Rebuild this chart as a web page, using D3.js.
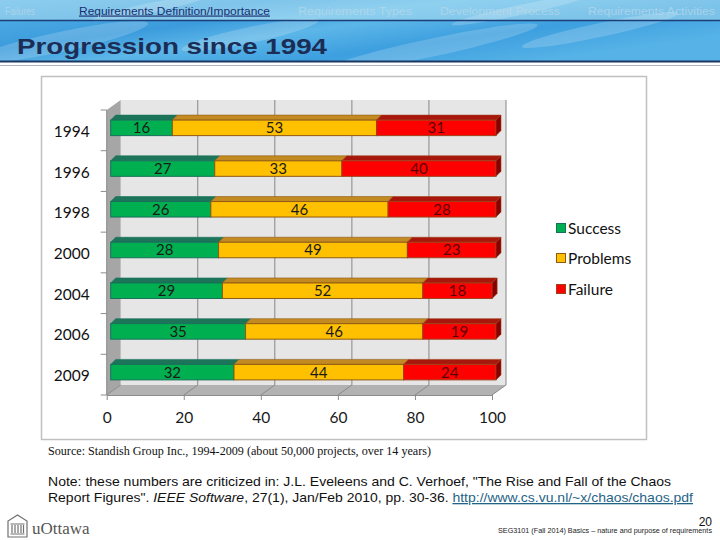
<!DOCTYPE html>
<html><head><meta charset="utf-8">
<script src="https://cdn.jsdelivr.net/npm/d3@7"></script>
<style>html,body{margin:0;padding:0;background:#fff;} svg{display:block;}</style>
</head><body>
<svg id="c" width="720" height="540"></svg>
<script>
// ---- data ----
const years = ["1994","1996","1998","2000","2004","2006","2009"];
const success = [16,27,26,28,29,35,32];
const problems = [53,33,46,49,52,46,44];
const failure = [31,40,28,23,18,19,24];
const seriesNames = ["Success","Problems","Failure"];
const xTicks = [0,20,40,60,80,100];
const navItems = ["Failures","Requirements Definition/Importance","Requirements Types","Development Process","Requirements Activities"];
const titleText = "Progression since 1994";
const sourceText = "Source: Standish Group Inc., 1994-2009  (about 50,000 projects, over 14 years)";
const noteLine1 = "Note: these numbers are criticized in: J.L. Eveleens and C. Verhoef, \"The Rise and Fall of the Chaos";
const noteLine2a = "Report Figures\". ";
const noteLine2b = "IEEE Software";
const noteLine2c = ", 27(1), Jan/Feb 2010, pp. 30-36. ";
const noteUrl = "http://www.cs.vu.nl/~x/chaos/chaos.pdf";
const pageNum = "20";
const footerText = "SEG3101 (Fall 2014)    Basics \u2013 nature and purpose of requirements";
const logoText = "uOttawa";

// ---- styles ----
const fronts = ["#00b050","#ffc000","#ff0000"];
const tops = ["#1d7559","#c48a22","#a8170c"];
const sides = ["#156049","#9c6a12","#8a0000"];
const strokes = ["#17705a","#8f5a14","#a0401a"];
const labelCols = ["#1a1a1a","#1a1a1a","#5a0000"];
const chartFont = "Lato, 'Open Sans', sans-serif";

const svg = d3.select("#c");
const defs = svg.append("defs");

// header gradients
const g1 = defs.append("linearGradient").attr("id","hdr1").attr("x1","0").attr("y1","0").attr("x2","1").attr("y2","0.3");
[["0","#8ccdee"],["0.35","#7fc4ea"],["0.6","#8fd0ef"],["1","#7cc3e9"]].forEach(s=>g1.append("stop").attr("offset",s[0]).attr("stop-color",s[1]));
const g2 = defs.append("linearGradient").attr("id","hdr2").attr("x1","0").attr("y1","0").attr("x2","1").attr("y2","0.4");
[["0","#4aa9e2"],["0.25","#3b9bdc"],["0.45","#5cb6e8"],["0.7","#3d9fdf"],["1","#57b3e7"]].forEach(s=>g2.append("stop").attr("offset",s[0]).attr("stop-color",s[1]));

// header
svg.append("rect").attr("x",0).attr("y",0).attr("width",720).attr("height",21).attr("fill","url(#hdr1)");
svg.append("rect").attr("x",0).attr("y",21).attr("width",720).attr("height",40).attr("fill","url(#hdr2)");
const streaks = svg.append("g").attr("opacity",0.18).attr("fill","#ffffff");
[[60,42,90,10],[250,35,70,8],[430,48,110,9],[600,30,80,7],[150,8,60,5],[520,10,70,5]].forEach(e=>{
  streaks.append("ellipse").attr("cx",e[0]).attr("cy",e[1]).attr("rx",e[2]).attr("ry",e[3]).attr("transform",`rotate(-12 ${e[0]} ${e[1]})`);
});
svg.append("line").attr("x1",0).attr("x2",720).attr("y1",20.5).attr("y2",20.5).attr("stroke","#1c3f78").attr("stroke-width",1.5);
svg.append("line").attr("x1",0).attr("x2",720).attr("y1",61.5).attr("y2",61.5).attr("stroke","#1b3763").attr("stroke-width",2);
svg.append("line").attr("x1",0).attr("x2",720).attr("y1",65.5).attr("y2",65.5).attr("stroke","#a9b4c2").attr("stroke-width",1);

const navX = [5,79,298,440,588];
const navW = [30,191,114,120,127];
navItems.forEach((t,i)=>{
  const active = i===1;
  svg.append("text").attr("x",navX[i]).attr("y",14.5)
    .attr("font-family","'Liberation Sans', Arial, sans-serif").attr("font-size",11.5)
    .attr("textLength",navW[i]).attr("lengthAdjust","spacingAndGlyphs")
    .attr("fill", active ? "#1b2f6e" : "#bcd9ea").attr("opacity", active?1:0.7)
    .attr("text-decoration", active ? "underline" : null)
    .text(t);
});
svg.append("text").attr("x",17).attr("y",54).attr("font-family","'Liberation Sans', Arial, sans-serif")
  .attr("font-weight","bold").attr("font-size",22).attr("textLength",310).attr("lengthAdjust","spacingAndGlyphs")
  .attr("fill","#1b2d55").text(titleText);

// chart frame
svg.append("rect").attr("x",41.5).attr("y",76.5).attr("width",605).attr("height",363)
  .attr("fill","#fff").attr("stroke","#c0c0c0").attr("stroke-width",1.5);

// scales
const x = d3.scaleLinear().domain([0,100]).range([106.7,492]);
const y = d3.scaleBand().domain(years).range([110,395]).padding(0);
const DX = 14, DY = 10;
const plot = svg.append("g");

plot.append("rect").attr("x",x(0)+DX).attr("y",110-DY).attr("width",x(100)-x(0)).attr("height",285).attr("fill","#e6e6e6");
plot.append("polygon").attr("points",[[x(0),110],[x(0)+DX,110-DY],[x(0)+DX,395-DY],[x(0),395]].join(" ")).attr("fill","#a6a6a6");
plot.append("polygon").attr("points",[[x(0),395],[x(100),395],[x(100)+DX,395-DY],[x(0)+DX,395-DY]].join(" ")).attr("fill","#b2b2b2");
xTicks.forEach(t=>{
  if (t>0) plot.append("line").attr("x1",x(t)+DX).attr("x2",x(t)+DX).attr("y1",110-DY).attr("y2",395-DY).attr("stroke","#878787").attr("stroke-width",1);
  plot.append("line").attr("x1",x(t)).attr("y1",395).attr("x2",x(t)+DX).attr("y2",395-DY).attr("stroke","#8a8a8a").attr("stroke-width",1);
});
plot.append("line").attr("x1",x(0)).attr("x2",x(0)).attr("y1",110).attr("y2",395).attr("stroke","#8c8c8c");
years.forEach(yr=>{
  plot.append("line").attr("x1",x(0)-6).attr("x2",x(0)).attr("y1",y(yr)).attr("y2",y(yr)).attr("stroke","#8c8c8c");
});
plot.append("line").attr("x1",x(0)-6).attr("x2",x(0)).attr("y1",395).attr("y2",395).attr("stroke","#8c8c8c");

const xAxis = plot.append("g").attr("transform","translate(0,395)")
  .call(d3.axisBottom(x).tickValues(xTicks).tickSize(5).tickPadding(12).tickSizeOuter(0));
xAxis.select(".domain").attr("stroke","#8c8c8c");
xAxis.selectAll(".tick line").attr("stroke","#8c8c8c");
xAxis.selectAll("text").attr("font-family",chartFont).attr("font-size",15.5).attr("fill","#1a1a1a");

const yAxis = plot.append("g").attr("transform",`translate(${x(0)},0)`)
  .call(d3.axisLeft(y).tickSize(0).tickPadding(17));
yAxis.select(".domain").remove();
yAxis.selectAll("text").attr("font-family",chartFont).attr("font-size",15.5).attr("fill","#111").attr("dy","0.42em");

const BX = 4, BY = -2.5, BH = 15.5, bdx = 5, bdy = 5;
const seriesVals = [success, problems, failure];
years.forEach((yr,i)=>{
  let cum = 0;
  const fy = y(yr) + y.bandwidth()/2 - BH/2 + BY;
  const g = plot.append("g");
  seriesVals.forEach((vals,s)=>{
    const v = vals[i];
    const fx = x(cum) + BX, fw = x(cum+v) - x(cum);
    g.append("polygon").attr("points",[[fx,fy],[fx+bdx,fy-bdy],[fx+fw+bdx,fy-bdy],[fx+fw,fy]].join(" "))
      .attr("fill",tops[s]).attr("stroke",strokes[s]).attr("stroke-width",0.6);
    g.append("rect").attr("x",fx).attr("y",fy).attr("width",fw).attr("height",BH)
      .attr("fill",fronts[s]).attr("stroke",strokes[s]).attr("stroke-width",1);
    if (s===2) {
      g.append("polygon").attr("points",[[fx+fw,fy],[fx+fw+bdx,fy-bdy],[fx+fw+bdx,fy-bdy+BH],[fx+fw,fy+BH]].join(" "))
        .attr("fill",sides[s]).attr("stroke",strokes[s]).attr("stroke-width",0.6);
    }
    g.append("text").attr("x",fx+fw/2).attr("y",fy+BH/2).attr("dy","0.36em").attr("text-anchor","middle")
      .attr("font-family",chartFont).attr("font-size",15).attr("fill",labelCols[s]).text(v);
    cum += v;
  });
});

const legY = [228,258,289];
seriesNames.forEach((n,s)=>{
  svg.append("rect").attr("x",556.5).attr("y",legY[s]-4.5).attr("width",9).attr("height",9)
    .attr("fill",fronts[s]).attr("stroke",strokes[s]).attr("stroke-width",1);
  svg.append("text").attr("x",568).attr("y",legY[s]).attr("dy","0.36em")
    .attr("font-family",chartFont).attr("font-size",15.5).attr("fill","#111").text(n);
});

svg.append("text").attr("x",48).attr("y",455).attr("font-family","'Liberation Serif', 'Times New Roman', serif")
  .attr("font-size",11.5).attr("fill","#111").attr("textLength",383).attr("lengthAdjust","spacingAndGlyphs").text(sourceText);

const noteFont = "'Liberation Sans', Arial, sans-serif";
svg.append("text").attr("x",48).attr("y",486).attr("font-family",noteFont).attr("font-size",13).attr("fill","#111")
  .attr("textLength",623).attr("lengthAdjust","spacingAndGlyphs").text(noteLine1);
const t2 = svg.append("text").attr("x",48).attr("y",502).attr("font-family",noteFont).attr("font-size",13).attr("fill","#111")
  .attr("textLength",645).attr("lengthAdjust","spacingAndGlyphs");
t2.append("tspan").text(noteLine2a);
t2.append("tspan").attr("font-style","italic").text(noteLine2b);
t2.append("tspan").text(noteLine2c);
t2.append("tspan").attr("fill","#1f6487").attr("text-decoration","underline").text(noteUrl);

svg.append("text").attr("x",712).attr("y",526).attr("text-anchor","end").attr("font-family",noteFont).attr("font-size",12).attr("fill","#111").text(pageNum);
svg.append("text").attr("x",498).attr("y",532.5).attr("font-family",noteFont).attr("font-size",6.5).attr("fill","#222")
  .attr("textLength",214).attr("lengthAdjust","spacingAndGlyphs").text(footerText);

const logo = svg.append("g").attr("stroke","#707070").attr("fill","none").attr("stroke-width",1.2);
logo.append("path").attr("d","M8,537 L8,521 L17.5,515 L27,521 L27,537 Z");
logo.append("path").attr("d","M10.5,524 L24.5,524 M10.5,534 L24.5,534");
[12,15,18,21,23.5].forEach(cx=>logo.append("line").attr("x1",cx).attr("x2",cx).attr("y1",525).attr("y2",533));
svg.append("text").attr("x",32).attr("y",534).attr("font-family","'Liberation Serif', 'Times New Roman', serif")
  .attr("font-size",17).attr("fill","#555").text(logoText);
</script>
</body></html>
